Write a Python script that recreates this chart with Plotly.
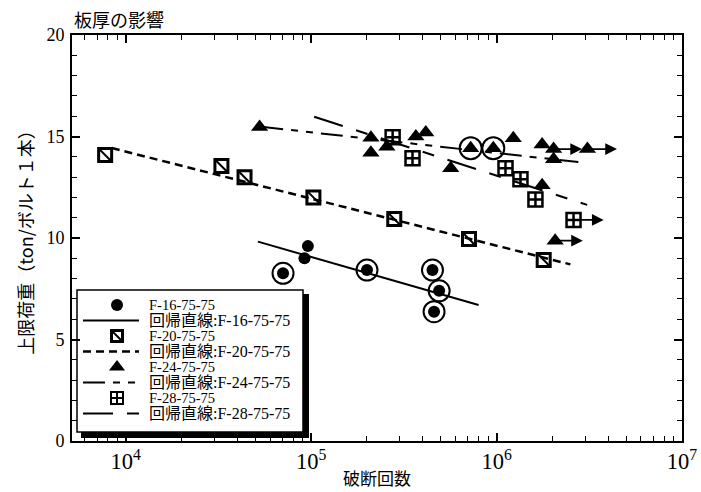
import numpy as np
import plotly.graph_objects as go

# ---------------- data ----------------
x16 = [70500, 92000, 96000, 200000, 451000, 490000, 460000]
y16 = [8.26, 9.0, 9.6, 8.42, 8.42, 7.40, 6.37]
x16_ring = [70500, 200000, 451000, 490000, 460000]
y16_ring = [8.26, 8.42, 8.42, 7.40, 6.37]
reg16_x = [51600, 800000]
reg16_y = [9.82, 6.70]

x20 = [7740, 32800, 43700, 102800, 280600, 710000, 1795000]
y20 = [14.09, 13.55, 12.99, 12.0, 10.94, 9.95, 8.92]
reg20_x = [8410, 2500000]
reg20_y = [14.43, 8.70]

x24 = [52700, 210000, 210000, 256000, 367000, 415000, 566000, 725000, 960000,
       1230000, 1760000, 2030000, 2030000, 3090000, 1760000, 2070000]
y24 = [15.47, 14.94, 14.2, 14.5, 15.0, 15.2, 13.43, 14.42, 14.42,
       14.91, 14.6, 14.38, 13.88, 14.38, 12.6, 9.87]
x24_ring = [725000, 960000]
y24_ring = [14.42, 14.42]
reg24_x = [53800, 2760000]
reg24_y = [15.48, 13.74]

x28 = [275000, 352000, 1117000, 1345000, 1620000, 2600000]
y28 = [14.96, 13.93, 13.43, 12.89, 11.9, 10.89]
reg28_x = [103800, 3080000]
reg28_y = [15.97, 11.63]

# run-out arrows (start x, end x, load)
arrow_x0 = [2030000, 3090000, 2070000, 2600000]
arrow_x1 = [2890000, 4460000, 2920000, 3780000]
arrow_y = [14.38, 14.38, 9.87, 10.89]

names = ["F-16-75-75", "F-20-75-75", "F-24-75-75", "F-28-75-75"]
reg_prefix = "回帰直線"

title_text = "板厚の影響"
xlabel = "破断回数"
ylabel = "上限荷重（ton/ボルト１本）"

SERIF = "Liberation Serif, Times New Roman, Noto Sans CJK JP, serif"
JP = "Noto Sans CJK JP, Liberation Serif, serif"
K = "black"

# ---------------- plot geometry (pixels) ----------------
W, H = 701, 492
L, R, T, B = 72, 19, 35, 51
PW, PH = W - L - R, H - T - B


def px_x(p):
    return (p - L) / PW


def px_y(p):
    return (H - B - p) / PH


dash20 = "8px,5px"
dash24 = "22px,8px,7px,8px,7px,8px"
dash28 = "30px,14px,12px,14px"

fig = go.Figure()

# F-16
fig.add_trace(go.Scatter(x=x16, y=y16, mode="markers", name=names[0],
                         marker=dict(symbol="circle", size=12, color=K)))
fig.add_trace(go.Scatter(x=reg16_x, y=reg16_y, mode="lines",
                         line=dict(color=K, width=2, dash="solid")))
fig.add_trace(go.Scatter(x=x16_ring, y=y16_ring, mode="markers",
                         marker=dict(symbol="circle-open", size=21, color=K, line=dict(width=2, color=K))))
# F-20
fig.add_trace(go.Scatter(x=x20, y=y20, mode="markers",
                         marker=dict(symbol="square-open", size=13, color=K, line=dict(width=3, color=K))))
fig.add_trace(go.Scatter(x=reg20_x, y=reg20_y, mode="lines",
                         line=dict(color=K, width=2.5, dash=dash20)))
fig.add_trace(go.Scatter(x=x20, y=y20, mode="markers",
                         marker=dict(symbol="line-nw", size=12, color=K, line=dict(width=2, color=K))))
# F-24
fig.add_trace(go.Scatter(x=x24, y=y24, mode="markers",
                         marker=dict(symbol="triangle-up", size=15, color=K)))
fig.add_trace(go.Scatter(x=reg24_x, y=reg24_y, mode="lines",
                         line=dict(color=K, width=2, dash=dash24)))
fig.add_trace(go.Scatter(x=x24_ring, y=y24_ring, mode="markers",
                         marker=dict(symbol="circle-open", size=22, color=K, line=dict(width=2, color=K))))
# F-28
fig.add_trace(go.Scatter(x=x28, y=y28, mode="markers",
                         marker=dict(symbol="square-cross-open", size=14, color=K, line=dict(width=2.5, color=K))))
fig.add_trace(go.Scatter(x=reg28_x, y=reg28_y, mode="lines",
                         line=dict(color=K, width=2, dash=dash28)))

# ---------------- custom legend (overlay axes in plot fractions) ----------------
ROW0, ROWSTEP = 305, 15.5
row_py = [ROW0 + ROWSTEP * i for i in range(8)]
sym_px = 117
line_px0, line_px1 = 83, 139
text_px = 148

legend_markers = [
    dict(symbol="circle", size=12, color=K),
    dict(symbol="square-open", size=11, color=K, line=dict(width=3, color=K)),
    dict(symbol="triangle-up", size=14, color=K),
    dict(symbol="square-cross-open", size=12, color=K, line=dict(width=2, color=K)),
]
legend_dashes = ["solid", dash20, dash24, dash28]
legend_lw = [2, 2.5, 2, 2]
for i in range(4):
    ym = px_y(row_py[2 * i])
    yl = px_y(row_py[2 * i + 1])
    fig.add_trace(go.Scatter(x=[px_x(sym_px)], y=[ym], mode="markers", xaxis="x2", yaxis="y2",
                             marker=legend_markers[i]))
    if i == 1:
        fig.add_trace(go.Scatter(x=[px_x(sym_px)], y=[ym], mode="markers", xaxis="x2", yaxis="y2",
                                 marker=dict(symbol="line-nw", size=10, color=K, line=dict(width=2, color=K))))
    fig.add_trace(go.Scatter(x=[px_x(line_px0), px_x(line_px1)], y=[yl, yl], mode="lines",
                             xaxis="x2", yaxis="y2",
                             line=dict(color=K, width=legend_lw[i], dash=legend_dashes[i])))

annotations = []
for i in range(4):
    annotations.append(dict(x=px_x(text_px), y=px_y(row_py[2 * i]), xref="paper", yref="paper",
                            xanchor="left", yanchor="middle", showarrow=False, borderpad=0,
                            text=names[i], font=dict(family=SERIF, size=14.5, color=K)))
    annotations.append(dict(x=px_x(text_px), y=px_y(row_py[2 * i + 1]), xref="paper", yref="paper",
                            xanchor="left", yanchor="middle", showarrow=False, borderpad=0, yshift=2,
                            text=('<span style="font-family:Noto Sans CJK JP">' + reg_prefix
                                  + '</span>:' + names[i]),
                            font=dict(family=SERIF, size=16, color=K)))

# run-out arrows
for a0, a1, ay in zip(arrow_x0, arrow_x1, arrow_y):
    annotations.append(dict(x=np.log10(a1), y=ay, ax=np.log10(a0), ay=ay,
                            xref="x", yref="y", axref="x", ayref="y",
                            showarrow=True, arrowhead=2, arrowsize=1.3, arrowwidth=1.8,
                            arrowcolor=K, text=""))

annotations.append(dict(x=0.0, y=1.0, xref="paper", yref="paper", xanchor="left", yanchor="bottom",
                        yshift=1, text=title_text, showarrow=False,
                        font=dict(family=JP, size=18, color=K)))

shapes = [
    # legend shadow
    dict(type="rect", xref="paper", yref="paper", layer="below",
         x0=px_x(81), x1=px_x(309), y0=px_y(438), y1=px_y(294),
         fillcolor=K, line=dict(width=0)),
    # legend box
    dict(type="rect", xref="paper", yref="paper", layer="below",
         x0=px_x(77), x1=px_x(303), y0=px_y(432), y1=px_y(290),
         fillcolor="white", line=dict(width=1.5, color=K)),
]

axis_common = dict(showline=True, linecolor=K, linewidth=2, mirror="ticks",
                   ticks="inside", ticklen=8, tickwidth=1.5, tickcolor=K,
                   showgrid=False, zeroline=False, automargin=False,
                   tickfont=dict(family=SERIF, size=18, color=K))

fig.update_layout(
    width=W, height=H,
    margin=dict(l=L, r=R, t=T, b=B),
    paper_bgcolor="white", plot_bgcolor="white",
    showlegend=False,
    xaxis=dict(type="log", range=[3.71, 7.0], dtick=1, exponentformat="power",
               minor=dict(ticks="inside", ticklen=5, tickwidth=1.2, tickcolor=K, dtick="D1", showgrid=False),
               title=dict(text=xlabel, font=dict(family=JP, size=17, color=K), standoff=0),
               **axis_common),
    yaxis=dict(range=[0, 20], dtick=5, ticklabelstandoff=2,
               minor=dict(ticks="inside", ticklen=5, tickwidth=1.2, tickcolor=K, dtick=1, showgrid=False),
               title=dict(text=ylabel, font=dict(family=JP, size=18, color=K), standoff=8),
               **axis_common),
    xaxis2=dict(overlaying="x", range=[0, 1], visible=False, fixedrange=True),
    yaxis2=dict(overlaying="y", range=[0, 1], visible=False, fixedrange=True),
    annotations=annotations,
    shapes=shapes,
)

fig.write_html("out.html", config={"displayModeBar": False},
               post_script="document.body.style.margin='0';")
